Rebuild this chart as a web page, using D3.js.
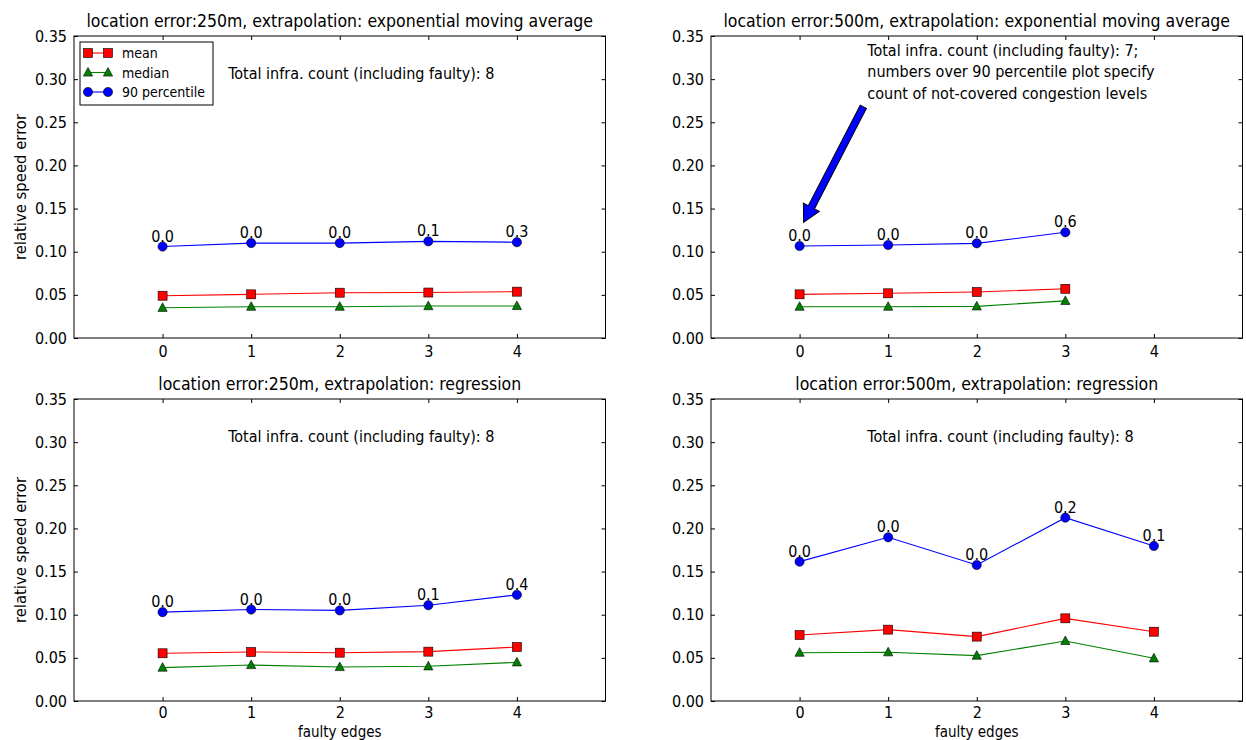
<!DOCTYPE html>
<html>
<head>
<meta charset="utf-8">
<script src="https://cdn.jsdelivr.net/npm/d3@7"></script>
<style>
  body { margin: 0; background: #fff; }
  text { font-family: "DejaVu Sans Condensed", "DejaVu Sans", sans-serif; fill: #000; }
</style>
</head>
<body>
<svg id="chart" width="1246" height="740"></svg>
<script>
// x categories and ticks
const faultyEdges = [0, 1, 2, 3, 4];
const yTicks = [0, 0.05, 0.10, 0.15, 0.20, 0.25, 0.30, 0.35];

const titles = [
  "location error:250m, extrapolation: exponential moving average",
  "location error:500m, extrapolation: exponential moving average",
  "location error:250m, extrapolation: regression",
  "location error:500m, extrapolation: regression"
];

// 250m, exponential moving average
const ema250Mean   = [0.049, 0.0506, 0.0525, 0.0527, 0.0537];
const ema250Median = [0.035, 0.0363, 0.0363, 0.037, 0.0371];
const ema250P90    = [0.106, 0.110, 0.110, 0.112, 0.111];
const ema250Labels = ["0.0", "0.0", "0.0", "0.1", "0.3"];

// 500m, exponential moving average (no value for 4 faulty edges)
const ema500Mean   = [0.0506, 0.0518, 0.0533, 0.057];
const ema500Median = [0.0363, 0.0363, 0.0367, 0.043];
const ema500P90    = [0.1066, 0.1078, 0.1097, 0.1225];
const ema500Labels = ["0.0", "0.0", "0.0", "0.6"];

// 250m, regression
const reg250Mean   = [0.0553, 0.0568, 0.056, 0.0572, 0.0626];
const reg250Median = [0.0387, 0.0417, 0.0394, 0.0402, 0.0448];
const reg250P90    = [0.103, 0.106, 0.105, 0.111, 0.123];
const reg250Labels = ["0.0", "0.0", "0.0", "0.1", "0.4"];

// 500m, regression
const reg500Mean   = [0.0765, 0.0827, 0.0746, 0.0958, 0.0803];
const reg500Median = [0.056, 0.0565, 0.0526, 0.0696, 0.0495];
const reg500P90    = [0.1615, 0.1897, 0.1576, 0.2125, 0.1797];
const reg500Labels = ["0.0", "0.0", "0.0", "0.2", "0.1"];

const notes = [
  ["Total infra. count (including faulty): 8"],
  ["Total infra. count (including faulty): 7;",
   "numbers over 90 percentile plot specify",
   "count of not-covered congestion levels"],
  ["Total infra. count (including faulty): 8"],
  ["Total infra. count (including faulty): 8"]
];

const seriesNames = ["mean", "median", "90 percentile"];
const seriesColors = ["#ff0000", "#008000", "#0000ff"];

const svg = d3.select("#chart");
const W = 531.5, H = 302;

const panels = [
  { left: 74,  top: 36,  mean: ema250Mean, median: ema250Median, p90: ema250P90, labels: ema250Labels, note: notes[0], noteX: 0.74, noteY: 0.300, yLabel: true, legend: true },
  { left: 711, top: 36,  mean: ema500Mean, median: ema500Median, p90: ema500P90, labels: ema500Labels, note: notes[1], noteX: 0.765, noteY: 0.327, arrow: true },
  { left: 74,  top: 399, mean: reg250Mean, median: reg250Median, p90: reg250P90, labels: reg250Labels, note: notes[2], noteX: 0.74, noteY: 0.300, yLabel: true, xLabel: true },
  { left: 711, top: 399, mean: reg500Mean, median: reg500Median, p90: reg500P90, labels: reg500Labels, note: notes[3], noteX: 0.765, noteY: 0.300, xLabel: true }
];

function marker(sel, kind, color) {
  if (kind === 0) {
    sel.append("rect").attr("x", -4.5).attr("y", -4.5).attr("width", 9).attr("height", 9)
      .attr("fill", color).attr("stroke", "#000").attr("stroke-width", 0.6);
  } else if (kind === 1) {
    sel.append("path").attr("d", "M0,-5L4.6,3.6L-4.6,3.6Z")
      .attr("fill", color).attr("stroke", "#000").attr("stroke-width", 0.6);
  } else {
    sel.append("circle").attr("r", 4.6)
      .attr("fill", color).attr("stroke", "#000").attr("stroke-width", 0.6);
  }
}

panels.forEach((p, i) => {
  const x = d3.scaleLinear().domain([-1, 5]).range([0, W]);
  const y = d3.scaleLinear().domain([0, 0.35]).range([H, 0]);
  const g = svg.append("g").attr("transform", "translate(" + p.left + "," + p.top + ")");

  // ticks inside on all four sides
  const tickLen = 4;
  g.append("g").attr("transform", "translate(0," + H + ")")
    .call(d3.axisBottom(x).tickValues(faultyEdges).tickSizeInner(-tickLen).tickSizeOuter(0).tickPadding(p.xLabel ? 6 : 8).tickFormat(d3.format("d")))
    .call(a => a.select(".domain").remove());
  g.append("g")
    .call(d3.axisTop(x).tickValues(faultyEdges).tickSizeInner(-tickLen).tickSizeOuter(0).tickFormat(""))
    .call(a => a.select(".domain").remove());
  g.append("g")
    .call(d3.axisLeft(y).tickValues(yTicks).tickSizeInner(-tickLen).tickSizeOuter(0).tickPadding(7).tickFormat(d3.format(".2f")))
    .call(a => a.select(".domain").remove());
  g.append("g").attr("transform", "translate(" + W + ",0)")
    .call(d3.axisRight(y).tickValues(yTicks).tickSizeInner(-tickLen).tickSizeOuter(0).tickFormat(""))
    .call(a => a.select(".domain").remove());
  g.selectAll(".tick text").style("font-size", "16px").attr("fill", "#000");
  g.selectAll(".tick line").attr("stroke", "#000");

  g.append("rect").attr("width", W).attr("height", H)
    .attr("fill", "none").attr("stroke", "#000").attr("stroke-width", 1);

  g.append("text").attr("x", W / 2).attr("y", -9).attr("text-anchor", "middle")
    .style("font-size", "17.5px").text(titles[i]);

  const series = [p.mean, p.median, p.p90];
  series.forEach((vals, k) => {
    const pts = vals.map((v, j) => [faultyEdges[j], v]);
    g.append("path").datum(pts)
      .attr("fill", "none").attr("stroke", seriesColors[k]).attr("stroke-width", 1.1)
      .attr("d", d3.line().x(d => x(d[0])).y(d => y(d[1])));
    pts.forEach(d => {
      const m = g.append("g").attr("transform", "translate(" + x(d[0]) + "," + y(d[1]) + ")");
      marker(m, k, seriesColors[k]);
    });
  });

  // labels over the 90 percentile points
  g.selectAll(".plabel").data(p.p90).enter().append("text")
    .attr("class", "plabel")
    .attr("x", (d, j) => x(faultyEdges[j]))
    .attr("y", d => y(d) - 5)
    .attr("text-anchor", "middle")
    .style("font-size", "16px")
    .text((d, j) => p.labels[j]);

  // note text
  const note = g.append("text").style("font-size", "16px");
  p.note.forEach((line, j) => {
    note.append("tspan").attr("x", x(p.noteX)).attr("y", y(p.noteY) + j * 21.5).text(line);
  });

  if (p.arrow) {
    const x0 = x(0.72), y0 = y(0.268), x1 = x(0.045), y1 = y(0.134);
    const ang = Math.atan2(y1 - y0, x1 - x0);
    const len = Math.hypot(x1 - x0, y1 - y0);
    const hw = 3.5, headW = 9, headL = 17;
    const shape = [[0, -hw], [len - headL, -hw], [len - headL, -headW], [len, 0],
                   [len - headL, headW], [len - headL, hw], [0, hw]];
    g.append("path")
      .attr("d", "M" + shape.map(s => s.join(",")).join("L") + "Z")
      .attr("transform", "translate(" + x0 + "," + y0 + ") rotate(" + (ang * 180 / Math.PI) + ")")
      .attr("fill", "#0000ff").attr("stroke", "#000").attr("stroke-width", 1);
  }

  if (p.yLabel) {
    g.append("text").attr("transform", "translate(-48," + H / 2 + ") rotate(-90)")
      .attr("text-anchor", "middle").style("font-size", "16.5px").text("relative speed error");
  }
  if (p.xLabel) {
    g.append("text").attr("x", W / 2).attr("y", H + 35.5).attr("text-anchor", "middle")
      .style("font-size", "15px").text("faulty edges");
  }

  if (p.legend) {
    const lg = g.append("g").attr("transform", "translate(6,6)");
    lg.append("rect").attr("width", 133).attr("height", 63)
      .attr("fill", "#fff").attr("stroke", "#000").attr("stroke-width", 1);
    seriesNames.forEach((name, k) => {
      const row = lg.append("g").attr("transform", "translate(0," + (11 + k * 19.5) + ")");
      row.append("line").attr("x1", 8).attr("x2", 28).attr("stroke", seriesColors[k]).attr("stroke-width", 1.1);
      [8, 28].forEach(cx => marker(row.append("g").attr("transform", "translate(" + cx + ",0)"), k, seriesColors[k]));
      row.append("text").attr("x", 42).attr("y", 5).style("font-size", "14px").text(name);
    });
  }
});
</script>
</body>
</html>
